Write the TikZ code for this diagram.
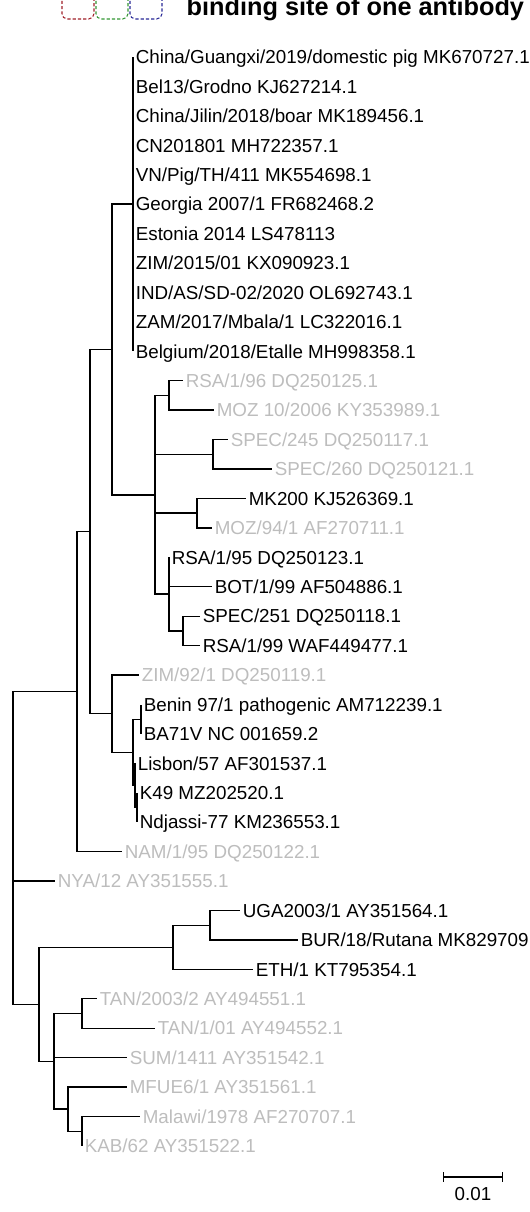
\documentclass[tikz,border=0pt]{standalone}
\usepackage{fontspec}
\setmainfont{Liberation Sans}
\usetikzlibrary{arrows.meta, positioning}
\definecolor{sitered}{RGB}{160,30,40}
\definecolor{sitegreen}{RGB}{50,150,50}
\definecolor{siteblue}{RGB}{40,40,150}
\definecolor{faint}{gray}{0.74}

\begin{document}
\begin{tikzpicture}[x=0.02cm, y=-0.02cm, line width=0.8pt,
        taxon/.style={anchor=west, inner xsep=1.2pt, inner ysep=0pt,
          text height=7.7pt, text depth=0pt, font=\fontsize{10.7}{12}\selectfont},
        faded/.style={taxon, text=faint},
        site/.style={dashed, dash pattern=on 1.8pt off 1.2pt, rounded corners=3pt, line width=0.6pt}]
      \path[use as bounding box, clip] (0,0) rectangle (530,1212);

      % legend at the top
      \draw[site, sitered] (62,-15) rectangle (94,19);
      \draw[site, sitegreen] (96,-15) rectangle (128,19);
      \draw[site, siteblue] (130,-15) rectangle (162,19);
      \node[anchor=base west, inner sep=0pt, font=\fontsize{14.4}{16}\selectfont\bfseries]
        (title) at (186,15.5) {binding site of one antibody};

      % inner nodes
      \coordinate (root) at (13,848);
      \coordinate (a) at (77,691.5);
      \coordinate (b) at (90,531.5);
      \coordinate (c) at (112,349.5);
      \coordinate (e) at (133,204.2);
      \coordinate (f) at (155,494.8);
      \coordinate (g) at (169,395.4);
      \coordinate (h) at (213,454.3);
      \coordinate (i) at (197,513.2);
      \coordinate (j) at (169,594.1);
      \coordinate (k) at (183,630.9);
      \coordinate (d) at (112,713.5);
      \coordinate (l) at (133,752.3);
      \coordinate (m) at (141,719.2);
      \coordinate (n) at (135,785.4);
      \coordinate (o) at (137,807.4);
      \coordinate (p) at (39,1004.2);
      \coordinate (q) at (173,947.2);
      \coordinate (s) at (210,925.2);
      \coordinate (r) at (54,1061.3);
      \coordinate (t) at (82,1013.4);
      \coordinate (u) at (68,1109.1);
      \coordinate (v) at (82,1131.2);

      % taxa
      \node[taxon] (guangxi) at (133,57) {China/Guangxi/2019/domestic pig MK670727.1};
      \node[taxon] (grodno) at (133,86.4) {Bel13/Grodno KJ627214.1};
      \node[taxon] (jilin) at (133,115.9) {China/Jilin/2018/boar MK189456.1};
      \node[taxon] (cn) at (133,145.3) {CN201801 MH722357.1};
      \node[taxon] (vn) at (133,174.7) {VN/Pig/TH/411 MK554698.1};
      \node[taxon] (georgia) at (133,204.2) {Georgia 2007/1 FR682468.2};
      \node[taxon] (estonia) at (133,233.6) {Estonia 2014 LS478113};
      \node[taxon] (zim15) at (133,263.0) {ZIM/2015/01 KX090923.1};
      \node[taxon] (ind) at (133,292.4) {IND/AS/SD-02/2020 OL692743.1};
      \node[taxon] (zam) at (133,321.9) {ZAM/2017/Mbala/1 LC322016.1};
      \node[taxon] (belgium) at (133,351.3) {Belgium/2018/Etalle MH998358.1};
      \node[faded] (rsa96) at (183,380.7) {RSA/1/96 DQ250125.1};
      \node[faded] (moz06) at (214,410.2) {MOZ 10/2006 KY353989.1};
      \node[faded] (spec245) at (228,439.6) {SPEC/245 DQ250117.1};
      \node[faded] (spec260) at (272,469.0) {SPEC/260 DQ250121.1};
      \node[taxon] (mk200) at (246,498.5) {MK200 KJ526369.1};
      \node[faded] (moz94) at (212,527.9) {MOZ/94/1 AF270711.1};
      \node[taxon] (rsa95) at (169,557.3) {RSA/1/95 DQ250123.1};
      \node[taxon] (bot) at (212,586.7) {BOT/1/99 AF504886.1};
      \node[taxon] (spec251) at (200,616.2) {SPEC/251 DQ250118.1};
      \node[taxon] (rsa99) at (200,645.6) {RSA/1/99 WAF449477.1};
      \node[faded] (zim92) at (139,675.0) {ZIM/92/1 DQ250119.1};
      \node[taxon] (benin) at (141,704.5) {Benin 97/1 pathogenic AM712239.1};
      \node[taxon] (ba71v) at (141,733.9) {BA71V NC 001659.2};
      \node[taxon] (lisbon) at (135,763.3) {Lisbon/57 AF301537.1};
      \node[taxon] (k49) at (137,792.7) {K49 MZ202520.1};
      \node[taxon] (ndjassi) at (137,822.1) {Ndjassi-77 KM236553.1};
      \node[faded] (nam) at (122,851.6) {NAM/1/95 DQ250122.1};
      \node[faded] (nya) at (55,881.0) {NYA/12 AY351555.1};
      \node[taxon] (uga) at (240,910.4) {UGA2003/1 AY351564.1};
      \node[taxon] (bur) at (298,939.9) {BUR/18/Rutana MK829709.1};
      \node[taxon] (eth) at (253,969.3) {ETH/1 KT795354.1};
      \node[faded] (tan03) at (97,998.7) {TAN/2003/2 AY494551.1};
      \node[faded] (tan01) at (155,1028.2) {TAN/1/01 AY494552.1};
      \node[faded] (sum) at (127,1057.6) {SUM/1411 AY351542.1};
      \node[faded] (mfue) at (127,1087.0) {MFUE6/1 AY351561.1};
      \node[faded] (malawi) at (140,1116.5) {Malawi/1978 AF270707.1};
      \node[faded] (kab) at (82,1145.9) {KAB/62 AY351522.1};

      % branches
      \draw (root) |- (a);
      \draw (root) |- (nya.west);
      \draw (root) |- (p);
      \draw (a) |- (b);
      \draw (a) |- (nam.west);
      \draw (b) |- (c);
      \draw (b) |- (d);
      \draw (c) |- (e);
      \draw (c) |- (f);
      \foreach \leaf in {guangxi,grodno,jilin,cn,vn,georgia,estonia,zim15,ind,zam,belgium}
        \draw (e) |- (\leaf.west);
      \draw (f) |- (g);
      \draw (f) |- (h);
      \draw (f) |- (i);
      \draw (f) |- (j);
      \draw (g) |- (rsa96.west);
      \draw (g) |- (moz06.west);
      \draw (h) |- (spec245.west);
      \draw (h) |- (spec260.west);
      \draw (i) |- (mk200.west);
      \draw (i) |- (moz94.west);
      \draw (j) |- (rsa95.west);
      \draw (j) |- (bot.west);
      \draw (j) |- (k);
      \draw (k) |- (spec251.west);
      \draw (k) |- (rsa99.west);
      \draw (d) |- (zim92.west);
      \draw (d) |- (l);
      \draw (l) |- (m);
      \draw (l) |- (n);
      \draw (m) |- (benin.west);
      \draw (m) |- (ba71v.west);
      \draw (n) |- (lisbon.west);
      \draw (n) |- (o);
      \draw (o) |- (k49.west);
      \draw (o) |- (ndjassi.west);
      \draw (p) |- (q);
      \draw (p) |- (r);
      \draw (q) |- (s);
      \draw (q) |- (eth.west);
      \draw (s) |- (uga.west);
      \draw (s) |- (bur.west);
      \draw (r) |- (t);
      \draw (r) |- (sum.west);
      \draw (r) |- (u);
      \draw (t) |- (tan03.west);
      \draw (t) |- (tan01.west);
      \draw (u) |- (mfue.west);
      \draw (u) |- (v);
      \draw (v) |- (malawi.west);
      \draw (v) |- (kab.west);

      % scale bar
      \coordinate (bar0) at (443,1177);
      \coordinate (bar1) at (503,1177);
      \draw[{Bar[width=5.5pt]}-{Bar[width=5.5pt]}] (bar0) -- (bar1)
        node[midway, below=5.5pt, inner sep=0pt, text height=7.7pt, text depth=0pt,
          font=\fontsize{10.7}{12}\selectfont] (barlabel) {0.01};
    \end{tikzpicture}
\end{document}
